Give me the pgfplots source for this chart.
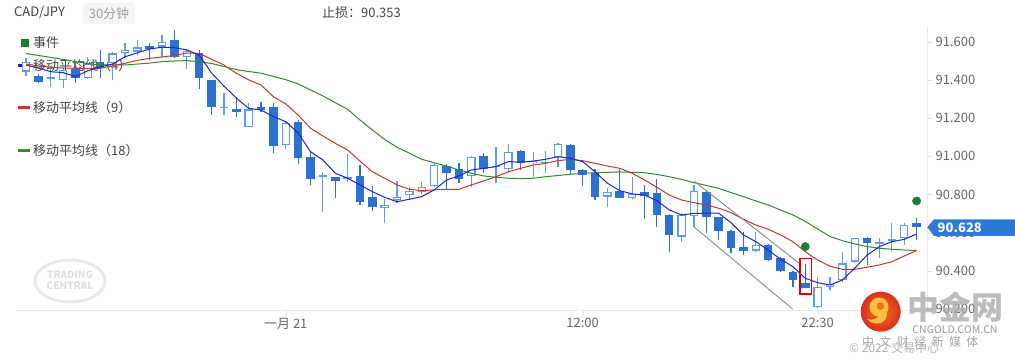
\documentclass[border=0pt]{standalone}
\usepackage{fontspec}
\setmainfont{Noto Sans CJK SC}
\usepackage{pgfplots}
\usepackage{pgfplotstable}
\pgfplotsset{compat=1.18}
\definecolor{dnc}{HTML}{2B72D0}
\definecolor{upc}{HTML}{5E9DE8}
\definecolor{maB}{HTML}{2020D8}
\definecolor{maR}{HTML}{C8372D}
\definecolor{maG}{HTML}{2E8B2E}
\definecolor{evG}{HTML}{1B7F3B}
\definecolor{tagB}{HTML}{2B7AD6}
\definecolor{txt}{HTML}{444444}
\definecolor{logoR}{HTML}{D8321C}
\definecolor{logoO}{HTML}{F0701E}
\definecolor{logoY}{HTML}{F8C040}

\pgfplotstableread{
i o h l c
0 91.443 91.513 91.420 91.495
2 91.405 91.473 91.361 91.417
3 91.400 91.478 91.356 91.452
5 91.408 91.521 91.405 91.487
7 91.487 91.548 91.399 91.539
8 91.539 91.592 91.513 91.557
9 91.548 91.609 91.530 91.571
11 91.574 91.635 91.521 91.600
13 91.518 91.560 91.455 91.553
16 91.254 91.330 91.216 91.258
18 91.152 91.277 91.152 91.246
21 91.059 91.186 91.037 91.176
24 90.890 90.919 90.710 90.902
26 90.881 91.012 90.867 90.893
29 90.728 90.775 90.649 90.746
30 90.771 90.872 90.757 90.788
31 90.797 90.841 90.771 90.820
32 90.815 90.865 90.803 90.841
33 90.844 90.966 90.841 90.954
36 90.897 91.001 90.841 90.998
38 90.942 91.050 90.859 90.951
39 90.932 91.063 90.911 91.024
41 90.963 91.024 90.890 90.977
42 90.963 91.029 90.914 90.970
43 90.995 91.070 90.945 91.064
47 90.788 90.832 90.736 90.815
49 90.780 90.893 90.778 90.803
53 90.579 90.701 90.553 90.693
54 90.687 90.850 90.628 90.820
59 90.506 90.605 90.500 90.535
64 90.209 90.369 90.207 90.317
65 90.317 90.369 90.300 90.331
66 90.352 90.500 90.343 90.440
67 90.448 90.572 90.440 90.571
69 90.541 90.571 90.466 90.550
70 90.557 90.649 90.500 90.565
71 90.571 90.652 90.535 90.640
}\upc

\pgfplotstableread{
i o h l c
1 91.420 91.431 91.382 91.391
4 91.455 91.487 91.385 91.408
6 91.495 91.557 91.408 91.461
10 91.577 91.592 91.504 91.560
12 91.609 91.661 91.513 91.521
14 91.542 91.557 91.351 91.408
15 91.399 91.402 91.216 91.256
17 91.248 91.312 91.207 91.230
19 91.260 91.286 91.233 91.242
20 91.260 91.277 91.016 91.054
22 91.181 91.190 90.960 90.989
23 90.998 91.024 90.850 90.881
25 90.890 90.893 90.780 90.872
27 90.898 90.954 90.745 90.762
28 90.785 90.844 90.715 90.733
34 90.949 90.960 90.827 90.914
35 90.932 90.966 90.859 90.879
37 91.001 91.016 90.911 90.932
40 91.029 91.033 90.928 90.966
44 91.059 91.064 90.907 90.928
45 90.928 90.932 90.844 90.902
46 90.914 90.932 90.771 90.788
48 90.820 90.937 90.780 90.780
50 90.815 90.850 90.670 90.792
51 90.806 90.880 90.631 90.693
52 90.693 90.698 90.500 90.588
55 90.815 90.823 90.597 90.684
56 90.681 90.682 90.562 90.610
57 90.609 90.614 90.492 90.521
58 90.523 90.605 90.482 90.506
60 90.535 90.540 90.453 90.457
61 90.466 90.471 90.396 90.401
62 90.396 90.399 90.314 90.352
63 90.338 90.434 90.309 90.309
68 90.571 90.575 90.431 90.544
72 90.649 90.675 90.562 90.628
}\dnc

\begin{document}
\begin{tikzpicture}[x=1pt,y=1pt]
\path[use as bounding box] (0,0) rectangle (1015,361);
\def\fs{\fontsize{13}{15}\selectfont}
% header
\node[anchor=west,text=txt,inner sep=0] at (14,348) {\fs CAD/JPY};
\fill[black!4,rounded corners=3pt] (83,337) rectangle (135,358);
\node[text=black!38,inner sep=0] at (109,347.5) {\fs 30分钟};
\node[anchor=west,text=txt,inner sep=0] at (322,348) {\fs 止损：90.353};
% legend
\fill[evG] (21,313.7) rectangle (29,321.7);
\node[anchor=west,text=txt,inner sep=0] at (33,318) {\fs 事件};
\fill[maB] (18,294) rectangle (30,296.5);
\node[anchor=west,text=txt,inner sep=0] at (33,295) {\fs 移动平均线（4）};
\fill[maR] (18,252) rectangle (30,254.5);
\node[anchor=west,text=txt,inner sep=0] at (33,253) {\fs 移动平均线（9）};
\fill[maG] (18,209) rectangle (30,211.5);
\node[anchor=west,text=txt,inner sep=0] at (33,210) {\fs 移动平均线（18）};
% trading central watermark
\draw[black!9,line width=3pt] (70,80) ellipse [x radius=35, y radius=21];
\node[text=black!13,align=center,inner sep=0] at (70,81) {\fontsize{10}{9.5}\selectfont\bfseries TRADING\\[-1pt]\bfseries CENTRAL};

\begin{axis}[
  at={(16pt,51pt)}, anchor=south west, scale only axis,
  width=911pt, height=283pt,
  xmin=-0.81, xmax=72.84, ymin=90.195, ymax=91.677,
  axis x line*=bottom, axis y line*=right,
  axis line style={draw=black!8},
  tick style={draw=black!12},
  major tick length=5pt, tick align=outside,
  xtick={21,45,64}, xticklabels={一月 21,12:00,22:30},
  ytick={90.2,90.4,90.6,90.8,91.0,91.2,91.4,91.6},
  yticklabel style={/pgf/number format/.cd,fixed,fixed zerofill,precision=3,assume math mode=true},
  ticklabel style={font=\fontsize{13}{15}\selectfont, text=black!60},
  clip=false,
]
% up candles
\addplot[forget plot, draw=none, mark=none, error bars/.cd, y dir=plus, y explicit, error mark=none,
  error bar style={draw=upc, line width=1.2pt}]
  table[x=i, y=l, y error expr=\thisrow{h}-\thisrow{l}] {\upc};
\addplot[forget plot, draw=none, mark=none, error bars/.cd, y dir=plus, y explicit, error mark=none,
  error bar style={draw=upc, line width=8.5pt}]
  table[x=i, y=o, y error expr=\thisrow{c}-\thisrow{o}] {\upc};
\addplot[forget plot, draw=none, mark=none, error bars/.cd, y dir=plus, y explicit, error mark=none,
  error bar style={draw=white, line width=6pt}]
  table[x=i, y expr=\thisrow{o}+0.0068, y error expr={max(\thisrow{c}-\thisrow{o}-0.0136,0)}] {\upc};
% down candles
\addplot[forget plot, draw=none, mark=none, error bars/.cd, y dir=plus, y explicit, error mark=none,
  error bar style={draw=dnc, line width=1.2pt}]
  table[x=i, y=l, y error expr=\thisrow{h}-\thisrow{l}] {\dnc};
\addplot[forget plot, draw=none, mark=none, error bars/.cd, y dir=plus, y explicit, error mark=none,
  error bar style={draw=dnc, line width=8.5pt}]
  table[x=i, y=c, y error expr=\thisrow{o}-\thisrow{c}] {\dnc};
% moving averages
\addplot[maG, line width=1pt, mark=none] coordinates {
(0,91.538)(1,91.528)(2,91.518)(3,91.507)(4,91.496)(5,91.486)(6,91.478)(7,91.478)(8,91.478)(9,91.483)(10,91.488)(11,91.496)(12,91.499)(13,91.501)(14,91.495)(15,91.486)(16,91.470)(17,91.454)(18,91.444)(19,91.435)(20,91.418)(21,91.401)(22,91.379)(23,91.347)(24,91.316)(25,91.281)(26,91.246)(27,91.190)(28,91.138)(29,91.088)(30,91.047)(31,91.016)(32,90.984)(33,90.966)(34,90.949)(35,90.928)(36,90.911)(37,90.897)(38,90.890)(39,90.885)(40,90.883)(41,90.885)(42,90.893)(43,90.899)(44,90.906)(45,90.910)(46,90.914)(47,90.916)(48,90.918)(49,90.916)(50,90.914)(51,90.905)(52,90.893)(53,90.879)(54,90.862)(55,90.847)(56,90.832)(57,90.810)(58,90.789)(59,90.766)(60,90.745)(61,90.719)(62,90.693)(63,90.659)(64,90.619)(65,90.580)(66,90.558)(67,90.541)(68,90.527)(69,90.518)(70,90.513)(71,90.509)(72,90.506)};
\addplot[maR, line width=1pt, mark=none] coordinates {
(0,91.483)(1,91.473)(2,91.466)(3,91.462)(4,91.461)(5,91.460)(6,91.461)(7,91.473)(8,91.487)(9,91.502)(10,91.513)(11,91.520)(12,91.528)(13,91.541)(14,91.539)(15,91.508)(16,91.478)(17,91.435)(18,91.400)(19,91.373)(20,91.312)(21,91.274)(22,91.216)(23,91.147)(24,91.106)(25,91.068)(26,91.033)(27,90.975)(28,90.919)(29,90.885)(30,90.850)(31,90.827)(32,90.820)(33,90.824)(34,90.827)(35,90.827)(36,90.850)(37,90.871)(38,90.893)(39,90.919)(40,90.937)(41,90.954)(42,90.963)(43,90.977)(44,90.984)(45,90.977)(46,90.963)(47,90.949)(48,90.937)(49,90.911)(50,90.876)(51,90.838)(52,90.797)(53,90.771)(54,90.757)(55,90.745)(56,90.728)(57,90.705)(58,90.670)(59,90.640)(60,90.618)(61,90.588)(62,90.553)(63,90.500)(64,90.457)(65,90.424)(66,90.408)(67,90.408)(68,90.419)(69,90.431)(70,90.448)(71,90.478)(72,90.506)};
\addplot[maB, line width=1pt, mark=none] coordinates {
(0,91.478)(1,91.462)(2,91.443)(3,91.438)(4,91.417)(5,91.448)(6,91.469)(7,91.483)(8,91.521)(9,91.542)(10,91.562)(11,91.571)(12,91.569)(13,91.557)(14,91.530)(15,91.436)(16,91.368)(17,91.305)(18,91.251)(19,91.242)(20,91.208)(21,91.181)(22,91.122)(23,91.024)(24,90.981)(25,90.911)(26,90.885)(27,90.850)(28,90.815)(29,90.785)(30,90.762)(31,90.775)(32,90.789)(33,90.824)(34,90.876)(35,90.897)(36,90.928)(37,90.937)(38,90.946)(39,90.972)(40,90.969)(41,90.975)(42,90.984)(43,90.998)(44,90.990)(45,90.972)(46,90.919)(47,90.859)(48,90.820)(49,90.803)(50,90.797)(51,90.768)(52,90.719)(53,90.693)(54,90.701)(55,90.702)(56,90.702)(57,90.652)(58,90.588)(59,90.553)(60,90.509)(61,90.461)(62,90.422)(63,90.361)(64,90.338)(65,90.326)(66,90.352)(67,90.414)(68,90.483)(69,90.527)(70,90.553)(71,90.565)(72,90.593)};
% channel lines
\addplot[black!45, line width=0.9pt, mark=none] coordinates {(54.0,90.870) (62.7,90.430)};
\addplot[black!45, line width=0.9pt, mark=none] coordinates {(54.0,90.630) (61.98,90.200)};
% red box
\addplot[red!85!black, line width=1.2pt, mark=none] coordinates {(62.57,90.466) (63.52,90.466) (63.52,90.279) (62.57,90.279) (62.57,90.466)};
% events
\addplot[only marks, mark=*, mark size=4.2pt, evG] coordinates {(63,90.527) (72,90.766)};
\end{axis}

% price tag
\fill[tagB] (927.3,133.7) -- (934,141.7) -- (1015,141.7) -- (1015,125) -- (934,125) -- cycle;
\node[anchor=west,text=white,inner sep=0] at (937.5,133.5) {\fs\bfseries 90.628};

% cngold watermark
\shade[inner color=logoO, outer color=logoR] (880.7,49.3) circle (20);
\fill[logoY] (879,54) circle (9.5);
\fill[logoO] (880.5,55) circle (3.8);
\fill[logoY] (867,42) .. controls (876,33) and (889,38) .. (887,51) -- (880,49) .. controls (880,43) and (874,40) .. (867,42) -- cycle;
\node[text=black!33,opacity=0.8,inner sep=0] at (955,53.5) {\fontsize{32}{32}\selectfont\bfseries 中金网};
\node[text=black!40,inner sep=0] at (955,31) {\fontsize{10.5}{10.5}\selectfont CNGOLD.COM.CN};
\node[anchor=west,text=black!35,inner sep=0] at (862,19) {\fontsize{12}{12}\selectfont 中\ \ 文\ \ 财\ \ 经\ \ 新\ \ 媒\ \ 体};
\node[anchor=west,text=black!30,inner sep=0] at (849,13.5) {\fontsize{12}{12}\selectfont © 2022 交易中心};
\end{tikzpicture}
\end{document}
